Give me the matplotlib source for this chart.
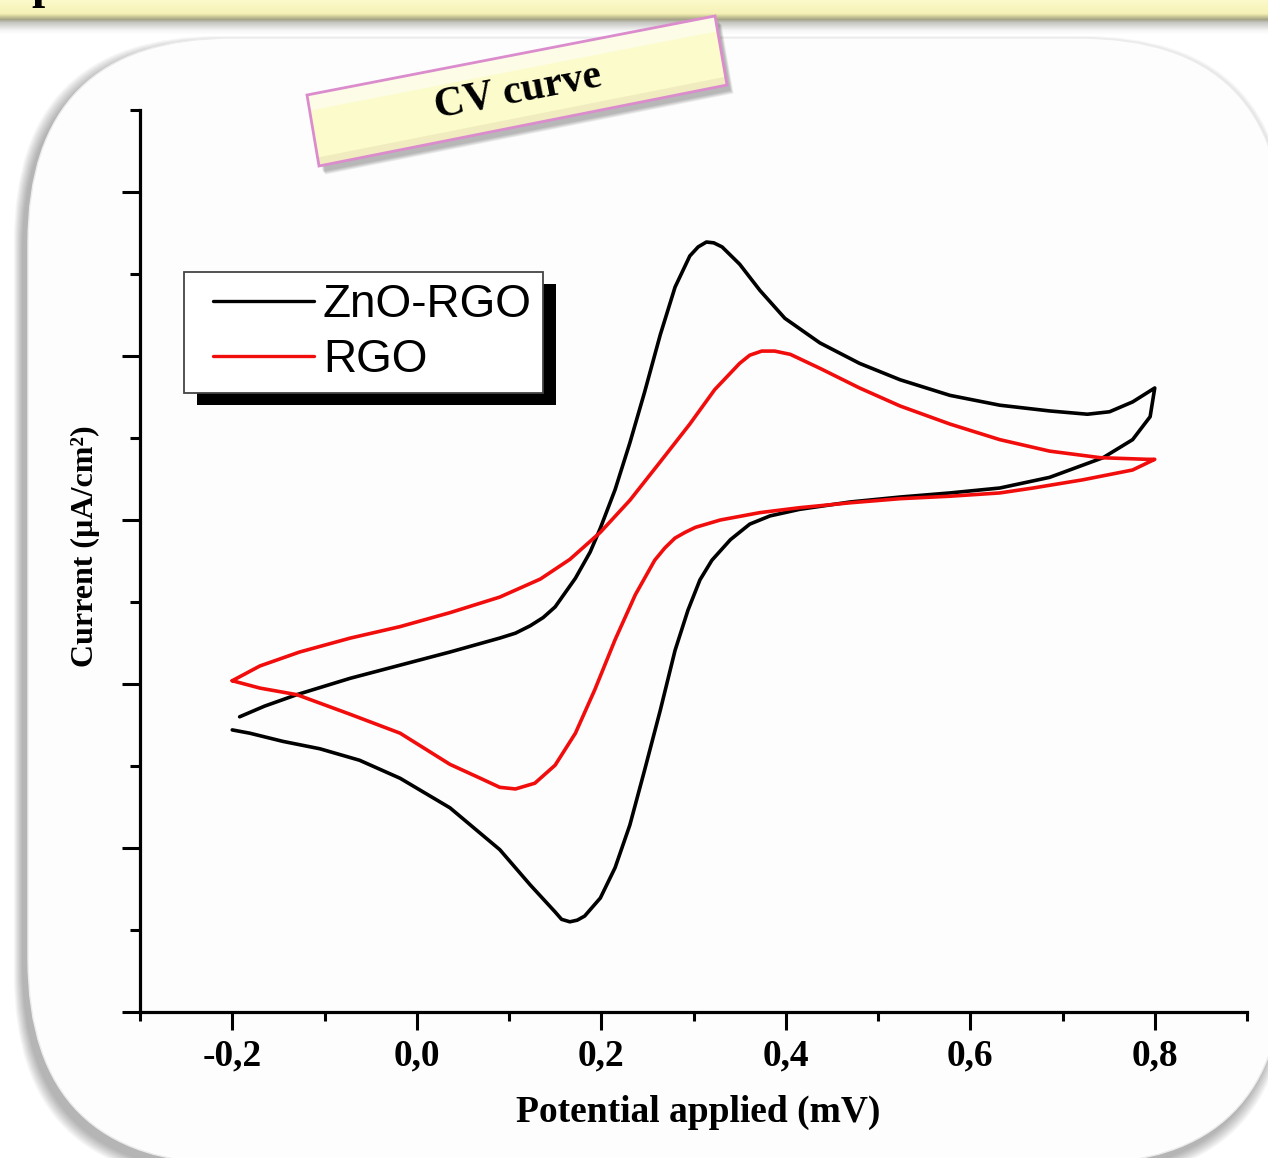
import matplotlib
matplotlib.use("Agg")
import matplotlib.pyplot as plt
import numpy as np
from matplotlib.patches import FancyBboxPatch, Polygon, Rectangle
from matplotlib.lines import Line2D
from matplotlib.legend_handler import HandlerLine2D
from matplotlib.transforms import IdentityTransform

# ---------------- data ----------------
series_labels = ["ZnO-RGO", "RGO"]

zno_potential = [-0.192, -0.165, -0.130, -0.072, -0.018, 0.036, 0.090, 0.107, 0.123, 0.137,
                 0.150, 0.172,
                 0.188, 0.199, 0.215, 0.231, 0.247, 0.264, 0.280, 0.296, 0.305, 0.314,
                 0.322, 0.331, 0.350, 0.372, 0.399, 0.437, 0.480, 0.524, 0.578, 0.632,
                 0.686, 0.727, 0.751, 0.776, 0.800,
                 0.795, 0.776, 0.744, 0.686, 0.632, 0.578, 0.524, 0.470, 0.415, 0.383,
                 0.361, 0.340, 0.320, 0.307, 0.294, 0.280, 0.264, 0.247, 0.231, 0.215,
                 0.199, 0.182, 0.174, 0.166, 0.157, 0.150, 0.123, 0.090, 0.036, -0.018,
                 -0.062, -0.105, -0.145, -0.181, -0.200]
zno_current = [-2.40, -2.27, -2.13, -1.93, -1.77, -1.61, -1.44, -1.38, -1.29, -1.19,
               -1.06, -0.71,
               -0.39, -0.10, 0.37, 0.94, 1.56, 2.26, 2.84, 3.22, 3.33, 3.39,
               3.38, 3.33, 3.12, 2.80, 2.46, 2.16, 1.91, 1.71, 1.52, 1.40,
               1.33, 1.29, 1.32, 1.44, 1.61,
               1.26, 0.98, 0.76, 0.52, 0.39, 0.33, 0.28, 0.22, 0.13, 0.05,
               -0.05, -0.24, -0.49, -0.73, -1.10, -1.59, -2.32, -3.05, -3.72, -4.24,
               -4.61, -4.83, -4.88, -4.90, -4.87, -4.78, -4.45, -4.02, -3.51, -3.15,
               -2.93, -2.79, -2.70, -2.60, -2.56]

rgo_potential = [-0.200, -0.170, -0.127, -0.072, -0.018, 0.036, 0.090, 0.134, 0.166, 0.199,
                 0.231, 0.264, 0.296, 0.323, 0.350, 0.361, 0.374, 0.388, 0.405, 0.437,
                 0.480, 0.524, 0.578, 0.632, 0.686, 0.741, 0.792, 0.800,
                 0.776, 0.722, 0.668, 0.632, 0.578, 0.524, 0.470, 0.415, 0.372, 0.329,
                 0.302, 0.291, 0.280, 0.269, 0.258, 0.237, 0.215, 0.193, 0.172, 0.150,
                 0.128, 0.107, 0.090, 0.069, 0.036, -0.018, -0.072, -0.130, -0.170, -0.200]
rgo_current = [-1.96, -1.78, -1.61, -1.44, -1.30, -1.13, -0.94, -0.72, -0.48, -0.15,
               0.24, 0.71, 1.17, 1.59, 1.91, 2.01, 2.06, 2.06, 2.02, 1.85,
               1.61, 1.39, 1.17, 0.98, 0.84, 0.76, 0.74, 0.74,
               0.61, 0.49, 0.39, 0.33, 0.29, 0.26, 0.21, 0.15, 0.09, 0.00,
               -0.09, -0.15, -0.22, -0.34, -0.49, -0.91, -1.46, -2.07, -2.60, -2.99,
               -3.21, -3.28, -3.26, -3.15, -2.98, -2.60, -2.37, -2.13, -2.05, -1.96]

x_major = [-0.2, 0.0, 0.2, 0.4, 0.6, 0.8]
x_tick_labels = ["-0,2", "0,0", "0,2", "0,4", "0,6", "0,8"]
x_minor = [-0.3, -0.1, 0.1, 0.3, 0.5, 0.7, 0.9]
y_major = [-6, -4, -2, 0, 2, 4]
y_minor = [-5, -3, -1, 1, 3, 5]
x_label = "Potential applied (mV)"
y_label = "Current (µA/cm²)"
tag_text = "CV curve"

# ---------------- figure ----------------
W, H = 1268, 1158
fig = plt.figure(figsize=(W / 100, H / 100), dpi=100)
fig.patch.set_facecolor("white")

bg = fig.add_axes([0, 0, 1, 1], zorder=-10)
bg.set_xlim(0, W)
bg.set_ylim(H, 0)
bg.axis("off")


def hex2rgb(h):
    h = h.lstrip("#")
    return np.array([int(h[i:i + 2], 16) / 255 for i in (0, 2, 4)])


# top yellow bar with olive edge and soft shadow
stops = [(0, "#fcfacb"), (13, "#f5f1b6"), (16, "#cfcb98"), (19, "#a6a488"),
         (22, "#c4c4c0"), (30, "#f6f6f6"), (34, "#ffffff")]
grad = np.zeros((34, 1, 3))
for r in range(34):
    for (a, ca), (b, cb) in zip(stops[:-1], stops[1:]):
        if a <= r <= b:
            t = (r - a) / max(b - a, 1)
            grad[r, 0] = (1 - t) * hex2rgb(ca) + t * hex2rgb(cb)
            break
bg.imshow(grad, extent=(0, W, 34, 0), aspect="auto", interpolation="bilinear", zorder=1)
bg.text(31, -2, "p", fontsize=34, fontweight="bold", family="Liberation Serif",
        va="baseline", ha="left", color="black", zorder=2)

# rounded panel with soft shadow (towards lower-left)
px0, py0, pw, ph, rad = 28, 38, 1256, 1126, 205
for k in range(1, 10):
    sh = FancyBboxPatch((px0 - 5, py0 + 7), pw, ph,
                        boxstyle=f"round,pad={k},rounding_size={rad}",
                        fc="black", ec="none", alpha=0.035, zorder=3)
    bg.add_patch(sh)
panel = FancyBboxPatch((px0, py0), pw, ph, boxstyle=f"round,pad=0,rounding_size={rad}",
                       fc="#fdfdfd", ec="#ececec", lw=1.0, zorder=4)
bg.add_patch(panel)

# tilted "CV curve" tag
TL, TR, BR, BL = (307, 95), (715, 16), (727, 85), (319, 166)
corners = np.array([TL, TR, BR, BL], dtype=float)
for k in range(1, 7):
    bg.add_patch(Polygon(corners + np.array([3 + k * 0.6, 5 + k * 0.6]), closed=True,
                         fc="black", ec="none", alpha=0.05, zorder=5))
bg.add_patch(Polygon(corners, closed=True, fc="#fbfbcb", ec="none", zorder=6))
tl, tr, br, bl = corners
hl = np.array([tl, tr, tr + 0.22 * (br - tr), tl + 0.22 * (bl - tl)])
bg.add_patch(Polygon(hl, closed=True, fc="white", ec="none", alpha=0.55, zorder=6.5))
lo = np.array([bl + 0.12 * (tl - bl), br + 0.12 * (tr - br), br, bl])
bg.add_patch(Polygon(lo, closed=True, fc="#e9e3b8", ec="none", alpha=0.6, zorder=6.5))
bg.add_patch(Polygon(corners, closed=True, fc="none", ec="#db8ccd", lw=2, zorder=7))
ang = np.degrees(np.arctan2(TL[1] - TR[1], TR[0] - TL[0]))
bg.text(518, 92, tag_text, fontsize=30, fontweight="bold", family="Liberation Serif",
        rotation=ang, rotation_mode="anchor", ha="center", va="center", zorder=8)

# ---------------- main chart ----------------
ax = fig.add_axes([140 / W, 1 - 1012 / H, 1107 / W, 902 / H])
ax.patch.set_visible(False)
l1, = ax.plot(zno_potential, zno_current, color="black", lw=2.6,
              solid_joinstyle="round", solid_capstyle="round", label=series_labels[0])
l2, = ax.plot(rgo_potential, rgo_current, color="#f20d0d", lw=2.6,
              solid_joinstyle="round", solid_capstyle="round", label=series_labels[1])
ax.set_xlim(-0.3, 0.9)
ax.set_ylim(-6, 5)
for s in ["top", "right"]:
    ax.spines[s].set_visible(False)
for s in ["left", "bottom"]:
    ax.spines[s].set_linewidth(2.3)

ax.set_xticks(x_major)
ax.set_xticklabels(x_tick_labels)
ax.set_xticks(x_minor, minor=True)
ax.set_yticks(y_major)
ax.set_yticklabels([])
ax.set_yticks(y_minor, minor=True)
ax.tick_params(axis="x", which="major", direction="out", length=13, width=2.2, pad=6,
               labelsize=27)
ax.tick_params(axis="x", which="minor", direction="out", length=6.5, width=2.2)
ax.tick_params(axis="y", which="major", direction="out", length=13, width=2.2)
ax.tick_params(axis="y", which="minor", direction="out", length=7.5, width=2.2)
for lab in ax.get_xticklabels():
    lab.set_fontfamily("Liberation Serif")
    lab.set_fontweight("bold")

ax.set_xlabel(x_label, fontsize=27, fontweight="bold", family="Liberation Serif", va="center")
ax.xaxis.set_label_coords((698 - 140) / 1107, (1012 - 1112) / 902)
ax.set_ylabel(y_label, fontsize=23, fontweight="bold", family="Liberation Serif",
              rotation=90, va="center", ha="center")
ax.yaxis.set_label_coords((85 - 140) / 1107, (1012 - 546) / 902)


class InsetLineHandler(HandlerLine2D):
    """Legend line that starts a little inside its handle box."""
    def create_artists(self, legend, orig_handle, xdescent, ydescent, width, height,
                       fontsize, trans):
        arts = super().create_artists(legend, orig_handle, xdescent, ydescent, width,
                                      height, fontsize, trans)
        line = arts[0]
        x = np.asarray(line.get_xdata(), dtype=float)
        x0, x1 = x.min(), x.max()
        line.set_xdata([x0 + 0.145 * (x1 - x0), x1])
        line.set_ydata(np.full(2, np.asarray(line.get_ydata())[0]))
        return arts


leg = ax.legend(handles=[l1, l2], loc="upper left",
                bbox_to_anchor=(184 / W, 1 - 272 / H), bbox_transform=fig.transFigure,
                borderaxespad=0, frameon=True, fancybox=False, framealpha=1,
                edgecolor="#444444", prop={"family": "Liberation Sans", "size": 33},
                handlelength=2.58, handletextpad=0.2, borderpad=0.25, labelspacing=0.23,
                handler_map={Line2D: InsetLineHandler()})
leg.get_frame().set_linewidth(1.3)
for h in leg.get_lines():
    h.set_linewidth(2.4)

fig.canvas.draw()
bb = leg.get_frame().get_window_extent()
fig.add_artist(Rectangle((bb.x0 + 13, bb.y0 - 12), bb.width, bb.height,
                         transform=IdentityTransform(), fc="black", ec="none", zorder=-1))

fig.savefig("out.png", dpi=100)
